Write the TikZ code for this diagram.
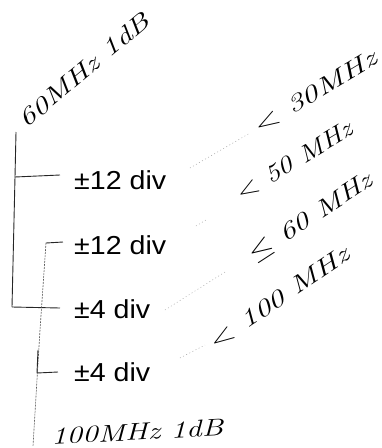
\documentclass[tikz,border=0pt]{standalone}
\usepackage{graphicx}
\usepackage{fontspec}
\newfontfamily\printfont{Liberation Sans}
\usetikzlibrary{positioning}
\newcommand{\wide}[2]{\scalebox{#1}[1]{#2}}
\tikzset{
	level/.style={font=\printfont\fontsize{26}{28}\selectfont, inner sep=0pt, anchor=west},
	hand/.style={font=\itshape\fontsize{24}{24}\selectfont, inner sep=0pt},
	bracket/.style={line width=0.9pt, black!85},
	dotbracket/.style={line width=0.6pt, black!65, dash pattern=on 2pt off 1pt},
	leader/.style={line width=0.5pt, black!35, dash pattern=on 1pt off 2.5pt},
}
\begin{document}
\begin{tikzpicture}[x=1pt,y=1pt]
	\useasboundingbox (0,0) rectangle (381,-448);
	% printed levels
	\node[level](lvlA) at (74,-180){\wide{1.1}{±12 div}};
	\node[level](lvlB) at (74,-245){\wide{1.1}{±12 div}};
	\node[level](lvlC) at (74,-309){\wide{1.1}{±4 div}};
	\node[level](lvlD) at (74,-372){\wide{1.1}{±4 div}};
	% solid bracket
	\coordinate(brTop) at (16,-132);
	\coordinate(brA) at (15,-177);
	\coordinate(tickA) at (60,-175);
	\coordinate(brBot) at (12,-307);
	\coordinate(tickC) at (60,-308);
	\draw[bracket](brTop)--(brA)--(brBot);
	\draw[bracket](brA)--(tickA);
	\draw[bracket](brBot)--(tickC);
	% dotted bracket
	\coordinate(dbTop) at (46,-243);
	\coordinate(tickB) at (63,-242);
	\coordinate(dbMid) at (40,-330);
	\coordinate(dbBot) at (33,-446);
	\draw[dotbracket](dbTop)--(dbMid)--(dbBot);
	\draw[bracket](dbTop)--(tickB);
	\coordinate(stubTop) at (38,-350);
	\coordinate(stubBot) at (37,-373);
	\coordinate(tickD) at (58,-372);
	\draw[bracket](stubTop)--(stubBot)--(tickD);
	% handwritten notes
	\node[hand,rotate=40](noteTop) at (84,-70){\wide{1.35}{60MHz 1dB}};
	\node[hand,rotate=31](noteA) at (315,-92){\wide{1.4}{$<$ 30MHz}};
	\node[hand,rotate=31](noteB) at (294,-161){\wide{1.22}{$<$ 50 MHz}};
	\node[hand,rotate=33](noteC) at (311,-218){\wide{1.32}{$\leq$ 60 MHz}};
	\node[hand,rotate=34](noteD) at (279,-298){\wide{1.37}{$<$ 100 MHz}};
	\node[hand,rotate=3](noteBot) at (137,-432){\wide{1.3}{100MHz\hspace{8pt}1dB}};
	% faint leaders
	\coordinate(ldA1) at (190,-168);\coordinate(ldA2) at (250,-133);
	\coordinate(ldB1) at (196,-226);\coordinate(ldB2) at (206,-220);
	\coordinate(ldC1) at (165,-310);\coordinate(ldC2) at (225,-272);
	\coordinate(ldD1) at (180,-358);\coordinate(ldD2) at (205,-345);
	\draw[leader](ldA1)--(ldA2);
	\draw[leader](ldB1)--(ldB2);
	\draw[leader](ldC1)--(ldC2);
	\draw[leader](ldD1)--(ldD2);
\end{tikzpicture}
\end{document}
